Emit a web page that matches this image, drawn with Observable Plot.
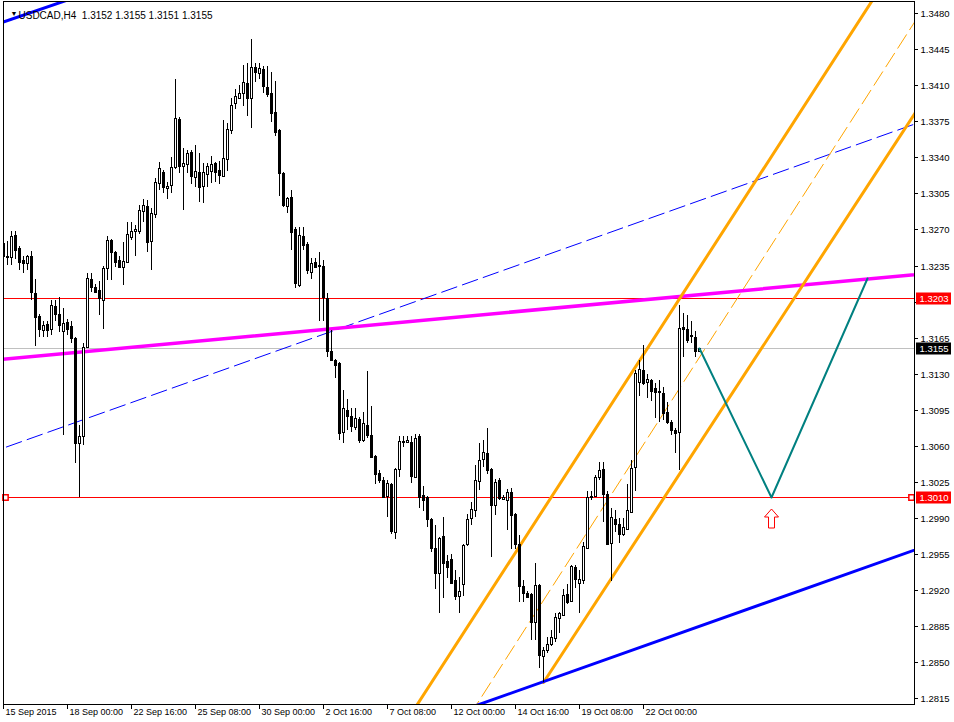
<!DOCTYPE html>
<html><head><meta charset="utf-8">
<script src="https://cdn.jsdelivr.net/npm/d3@7"></script>
<script src="https://cdn.jsdelivr.net/npm/@observablehq/plot@0.6"></script>
<style>
html,body{margin:0;padding:0;background:#fff;}
svg{display:block;}
</style></head><body><div id="chart"></div>
<script>
// ---- USDCAD H4 candles (index 0 = 15 Sep 2015 08:00) ----
const open = [
1.3257,1.3244,1.3243,1.3265,1.3252,1.3240,1.3237,1.3244,1.3208,1.3186,
1.3172,1.3178,1.3173,1.3196,1.3188,1.3171,1.3180,1.3176,1.3165,1.3063,
1.3069,1.3156,1.3222,1.3214,1.3211,1.3202,1.3233,1.3260,1.3248,1.3240,
1.3234,1.3238,1.3263,1.3269,1.3269,1.3288,1.3293,1.3259,1.3285,1.3315,
1.3326,1.3310,1.3313,1.3331,1.3377,1.3332,1.3334,1.3345,1.3321,1.3326,
1.3312,1.3324,1.3327,1.3335,1.3328,1.3322,1.3338,1.3367,1.3393,1.3398,
1.3403,1.3412,1.3398,1.3428,1.3422,1.3426,1.3408,1.3403,1.3384,1.3367,
1.3325,1.3293,1.3302,1.3270,1.3216,1.3264,1.3256,1.3229,1.3238,1.3236,
1.3235,1.3203,1.3152,1.3143,1.3140,1.3073,1.3095,1.3089,1.3078,1.3086,
1.3066,1.3080,1.3070,1.3050,1.3034,1.3027,1.3011,1.3023,1.2976,1.3037,
1.3065,1.3064,1.3064,1.3030,1.3069,1.3012,1.3010,1.2989,1.2961,1.2936,
1.2972,1.2948,1.2950,1.2930,1.2914,1.2926,1.2965,1.2990,1.2998,1.3026,
1.3047,1.3053,1.3037,1.3002,1.3027,1.3008,1.3007,1.3015,1.2994,1.2965,
1.2924,1.2917,1.2916,1.2889,1.2925,1.2856,1.2862,1.2867,1.2873,1.2893,
1.2896,1.2916,1.2909,1.2942,1.2927,1.2930,1.2961,1.3010,1.3011,1.3030,
1.3037,1.3013,1.2966,1.2989,1.2984,1.2974,1.2979,1.2996,1.3039,1.3122,
1.3134,1.3122,1.3124,1.3116,1.3112,1.3111,1.3093,1.3083,1.3075,1.3073,
1.3175,1.3173,1.3168,1.3166,1.3152];
const high = [
1.3261,1.3259,1.3269,1.3269,1.3254,1.3244,1.3245,1.3249,1.3222,1.3188,
1.3181,1.3181,1.3202,1.3202,1.3204,1.3194,1.3183,1.3181,1.3166,1.3080,
1.3160,1.3228,1.3228,1.3217,1.3220,1.3235,1.3264,1.3261,1.3249,1.3244,
1.3258,1.3277,1.3277,1.3274,1.3294,1.3300,1.3299,1.3291,1.3320,1.3336,
1.3328,1.3316,1.3340,1.3416,1.3379,1.3349,1.3347,1.3347,1.3352,1.3344,
1.3335,1.3335,1.3341,1.3336,1.3337,1.3376,1.3373,1.3398,1.3406,1.3410,
1.3430,1.3432,1.3455,1.3432,1.3432,1.3429,1.3429,1.3423,1.3414,1.3368,
1.3326,1.3302,1.3308,1.3272,1.3272,1.3272,1.3258,1.3242,1.3242,1.3248,
1.3240,1.3208,1.3172,1.3144,1.3141,1.3114,1.3105,1.3097,1.3097,1.3088,
1.3093,1.3133,1.3099,1.3051,1.3036,1.3030,1.3027,1.3024,1.3038,1.3069,
1.3069,1.3069,1.3069,1.3071,1.3071,1.3021,1.3011,1.2990,1.2983,1.2971,
1.2991,1.2954,1.2955,1.2939,1.2933,1.2965,1.2994,1.3005,1.3041,1.3063,
1.3066,1.3077,1.3038,1.3028,1.3029,1.3012,1.3018,1.3019,1.2995,1.2973,
1.2930,1.2919,1.2917,1.2946,1.2926,1.2865,1.2874,1.2881,1.2898,1.2899,
1.2921,1.2926,1.2944,1.2944,1.2939,1.2967,1.3016,1.3016,1.3032,1.3044,
1.3044,1.3016,1.3000,1.2998,1.2990,1.2990,1.3023,1.3046,1.3134,1.3143,
1.3158,1.3130,1.3125,1.3121,1.3124,1.3117,1.3102,1.3085,1.3077,1.3197,
1.3189,1.3187,1.3181,1.3171,1.3155];
const low = [
1.3239,1.3236,1.3236,1.3241,1.3231,1.3228,1.3231,1.3202,1.3157,1.3166,
1.3166,1.3166,1.3168,1.3181,1.3170,1.3070,1.3168,1.3160,1.3043,1.3010,
1.3061,1.3155,1.3209,1.3208,1.3187,1.3173,1.3221,1.3221,1.3234,1.3233,
1.3216,1.3237,1.3260,1.3244,1.3266,1.3277,1.3248,1.3231,1.3281,1.3308,
1.3305,1.3300,1.3305,1.3329,1.3325,1.3289,1.3325,1.3314,1.3311,1.3297,
1.3296,1.3311,1.3315,1.3316,1.3314,1.3321,1.3327,1.3363,1.3387,1.3397,
1.3390,1.3380,1.3369,1.3413,1.3416,1.3403,1.3399,1.3374,1.3361,1.3303,
1.3292,1.3286,1.3250,1.3213,1.3214,1.3250,1.3227,1.3222,1.3233,1.3181,
1.3181,1.3146,1.3142,1.3126,1.3066,1.3063,1.3075,1.3073,1.3075,1.3063,
1.3064,1.3068,1.3048,1.3023,1.3024,1.3009,1.2991,1.2974,1.2969,1.3030,
1.3059,1.3063,1.3024,1.3029,1.3000,1.2997,1.2981,1.2957,1.2921,1.2898,
1.2912,1.2932,1.2926,1.2910,1.2898,1.2914,1.2963,1.2983,1.2991,1.3017,
1.3039,1.3033,1.2952,1.2993,1.3007,1.3007,1.2978,1.2960,1.2960,1.2908,
1.2908,1.2912,1.2871,1.2871,1.2844,1.2831,1.2859,1.2866,1.2869,1.2878,
1.2895,1.2906,1.2908,1.2922,1.2898,1.2926,1.2960,1.3007,1.3010,1.3027,
1.2986,1.2964,1.2929,1.2976,1.2966,1.2972,1.2978,1.2995,1.3016,1.3108,
1.3119,1.3106,1.3103,1.3087,1.3083,1.3085,1.3081,1.3070,1.3053,1.3036,
1.3146,1.3160,1.3160,1.3146,1.3151];
const close = [
1.3244,1.3243,1.3264,1.3250,1.3238,1.3237,1.3244,1.3209,1.3185,1.3173,
1.3177,1.3172,1.3197,1.3188,1.3177,1.3179,1.3173,1.3165,1.3063,1.3069,
1.3156,1.3223,1.3214,1.3209,1.3203,1.3233,1.3260,1.3248,1.3238,1.3234,
1.3239,1.3266,1.3269,1.3270,1.3289,1.3294,1.3258,1.3286,1.3316,1.3330,
1.3311,1.3312,1.3331,1.3378,1.3332,1.3335,1.3344,1.3322,1.3327,1.3311,
1.3326,1.3332,1.3334,1.3326,1.3323,1.3339,1.3368,1.3391,1.3400,1.3403,
1.3413,1.3398,1.3428,1.3423,1.3427,1.3409,1.3402,1.3383,1.3365,1.3325,
1.3294,1.3301,1.3268,1.3218,1.3265,1.3255,1.3231,1.3237,1.3234,1.3235,
1.3204,1.3152,1.3143,1.3138,1.3072,1.3097,1.3089,1.3079,1.3087,1.3066,
1.3082,1.3070,1.3049,1.3033,1.3027,1.3010,1.3024,1.2977,1.3037,1.3065,
1.3064,1.3066,1.3031,1.3068,1.3010,1.3007,1.2989,1.2961,1.2936,1.2970,
1.2946,1.2942,1.2927,1.2914,1.2919,1.2964,1.2989,1.2999,1.3027,1.3046,
1.3054,1.3036,1.3002,1.3025,1.3009,1.3010,1.3015,1.2993,1.2965,1.2924,
1.2917,1.2913,1.2889,1.2925,1.2857,1.2862,1.2867,1.2874,1.2894,1.2898,
1.2915,1.2908,1.2943,1.2931,1.2931,1.2963,1.3010,1.3011,1.3030,1.3036,
1.3013,1.2965,1.2991,1.2984,1.2974,1.2981,1.2998,1.3038,1.3131,1.3135,
1.3121,1.3125,1.3113,1.3112,1.3113,1.3092,1.3083,1.3075,1.3072,1.3174,
1.3173,1.3163,1.3167,1.3152,1.3155];

// ---- axis ticks ----
const dateTickIndex = [0,16,32,48,64,80,96,112,128,144,160];
const dateTickLabels = ["15 Sep 2015","18 Sep 00:00","22 Sep 16:00","25 Sep 08:00","30 Sep 00:00","2 Oct 16:00","7 Oct 08:00","12 Oct 00:00","14 Oct 16:00","19 Oct 08:00","22 Oct 00:00"];
const priceTicks = [1.3480,1.3445,1.3410,1.3375,1.3340,1.3305,1.3270,1.3235,1.3200,1.3165,1.3130,1.3095,1.3060,1.3025,1.2990,1.2955,1.2920,1.2885,1.2850,1.2815];

// ---- header ----
const symbolName = "USDCAD,H4";
const lastQuote = [1.3152, 1.3155, 1.3151, 1.3155];

// ---- drawn objects: anchors as [candle index, price] ----
const magentaLine   = [[0, 1.3145], [215, 1.3222]];
const blueDashLine  = [[0, 1.3058], [226, 1.3370]];
const blueLowerLine = [[135, 1.2831], [225, 1.2955]];
const blueUpperLine = [[0, 1.3472], [15, 1.3492]];
const orangeUpper   = [[114.25, 1.2874], [170.5, 1.3212]];
const orangeMiddle  = [[119.7, 1.2818], [177.2, 1.3166]];
const orangeLower   = [[135, 1.2831], [178, 1.3087]];
const tealPath      = [[174, 1.3155], [192, 1.3010], [216, 1.3223]];
const arrowPoint    = [[192, 1.2990]];
const levelPrices   = [1.3203, 1.3010];
const bidPrice      = 1.3155;
const badgePrices   = [1.3203, 1.3155, 1.3010];
const badgeColors   = ["#ff0000", "#000000", "#ff0000"];

// ---- helpers ----
const xMin = -20, xMax = 250;
function extendLine([a, b], ray = false) {
  const m = (b[1] - a[1]) / (b[0] - a[0]);
  const x0 = ray ? a[0] : xMin;
  return [[x0, a[1] + m * (x0 - a[0])], [xMax, a[1] + m * (xMax - a[0])]];
}
const idx = d3.range(open.length);
const upArrow = {
  draw(ctx) {
    ctx.moveTo(0, -9.5);
    ctx.lineTo(7, -1.5);
    ctx.lineTo(3, -1.5);
    ctx.lineTo(3, 9.5);
    ctx.lineTo(-3, 9.5);
    ctx.lineTo(-3, -1.5);
    ctx.lineTo(-7, -1.5);
    ctx.closePath();
  }
};
const fmt = d => d.toFixed(4);
// tick labels hidden under a price badge are not drawn
const visibleTicks = priceTicks.filter(p => badgePrices.every(b => Math.abs(b - p) > 0.0008));

const chart = Plot.plot({
  width: 954, height: 722,
  marginLeft: 3, marginRight: 40, marginTop: 1, marginBottom: 18,
  style: {background: "white", fontFamily: "'Liberation Sans', Arial, sans-serif", fontSize: "9px", color: "black"},
  x: {domain: [0, 227.75], axis: null, round: true},
  y: {domain: [1.28092, 1.34919], axis: null, round: true},
  marks: [
    // horizontal levels
    Plot.ruleY([bidPrice], {y: d => d, stroke: "#c0c0c0", strokeWidth: 1, shapeRendering: "crispEdges"}),
    Plot.ruleY(levelPrices, {y: d => d, stroke: "#ff0000", strokeWidth: 1, shapeRendering: "crispEdges"}),
    // dashed lines
    Plot.line(extendLine(blueDashLine), {stroke: "#0000ff", strokeWidth: 1, strokeDasharray: "16,6", clip: true}),
    Plot.line(extendLine(orangeMiddle), {stroke: "#ffa500", strokeWidth: 1, strokeDasharray: "16,6", clip: true}),
    // thick lines
    Plot.line(extendLine(magentaLine), {stroke: "#ff00ff", strokeWidth: 3.5, clip: true}),
    Plot.line(extendLine(orangeUpper), {stroke: "#ffa500", strokeWidth: 3, clip: true}),
    Plot.line(extendLine(orangeLower, true), {stroke: "#ffa500", strokeWidth: 3, clip: true}),
    Plot.line(extendLine(blueLowerLine), {stroke: "#0000ff", strokeWidth: 3, clip: true}),
    Plot.line(extendLine(blueUpperLine), {stroke: "#0000ff", strokeWidth: 3, clip: true}),
    // candles
    Plot.ruleX(idx, {x: i => i, y1: i => low[i], y2: i => high[i], stroke: "black", strokeWidth: 1, clip: true, shapeRendering: "crispEdges"}),
    Plot.rect(idx, {x1: i => i - 0.25, x2: i => i + 0.25, y1: i => open[i], y2: i => close[i],
      fill: i => close[i] < open[i] ? "black" : "white", stroke: "black", strokeWidth: 1, clip: true, shapeRendering: "crispEdges"}),
    // forecast path and arrow
    Plot.line(tealPath, {stroke: "#008080", strokeWidth: 2, clip: true}),
    Plot.dot(arrowPoint, {x: d => d[0], y: d => d[1], symbol: upArrow, r: 10, stroke: "#ff0000", fill: "white", strokeWidth: 1}),
    // selection squares on the 1.3010 level
    Plot.dot([levelPrices[1]], {y: d => d, frameAnchor: "left", dx: 2, symbol: "square", r: 3, stroke: "#ff0000", fill: "white"}),
    Plot.dot([levelPrices[1]], {y: d => d, frameAnchor: "right", dx: -3, symbol: "square", r: 3, stroke: "#ff0000", fill: "white"}),
    // frame
    Plot.frame({stroke: "black", shapeRendering: "crispEdges"}),
    // right price axis
    Plot.ruleY(priceTicks, {y: d => d, insetLeft: 911, insetRight: -4, stroke: "black", shapeRendering: "crispEdges"}),
    Plot.text(visibleTicks, {y: d => d, frameAnchor: "right", dx: 6, textAnchor: "start", text: fmt, fill: "black", fontSize: 9.5}),
    // price badges
    Plot.ruleY(badgePrices, {y: d => d, stroke: (d, i) => badgeColors[i], strokeWidth: 12, insetLeft: 913, insetRight: -37}),
    Plot.text(badgePrices, {y: d => d, frameAnchor: "right", dx: 5, textAnchor: "start", text: fmt, fill: "white", fontSize: 9.5}),
    // time axis
    Plot.ruleX(dateTickIndex, {x: d => d, insetTop: 703, insetBottom: -5, stroke: "black", shapeRendering: "crispEdges"}),
    Plot.text(dateTickIndex, {x: d => d, frameAnchor: "bottom", dy: 10, dx: 2, textAnchor: "start",
      text: (d, i) => dateTickLabels[i], fill: "black", fontSize: 9}),
    // header
    Plot.text(["\u25BC"], {frameAnchor: "top-left", dx: 7, dy: 10, textAnchor: "start", fontSize: 7, fill: "black"}),
    Plot.text([symbolName + "\u00a0\u00a0" + lastQuote.map(fmt).join(" ")],
      {frameAnchor: "top-left", dx: 15, dy: 10, textAnchor: "start", fontSize: 10, fill: "black"})
  ]
});
document.getElementById("chart").appendChild(chart);
</script>
</body></html>
